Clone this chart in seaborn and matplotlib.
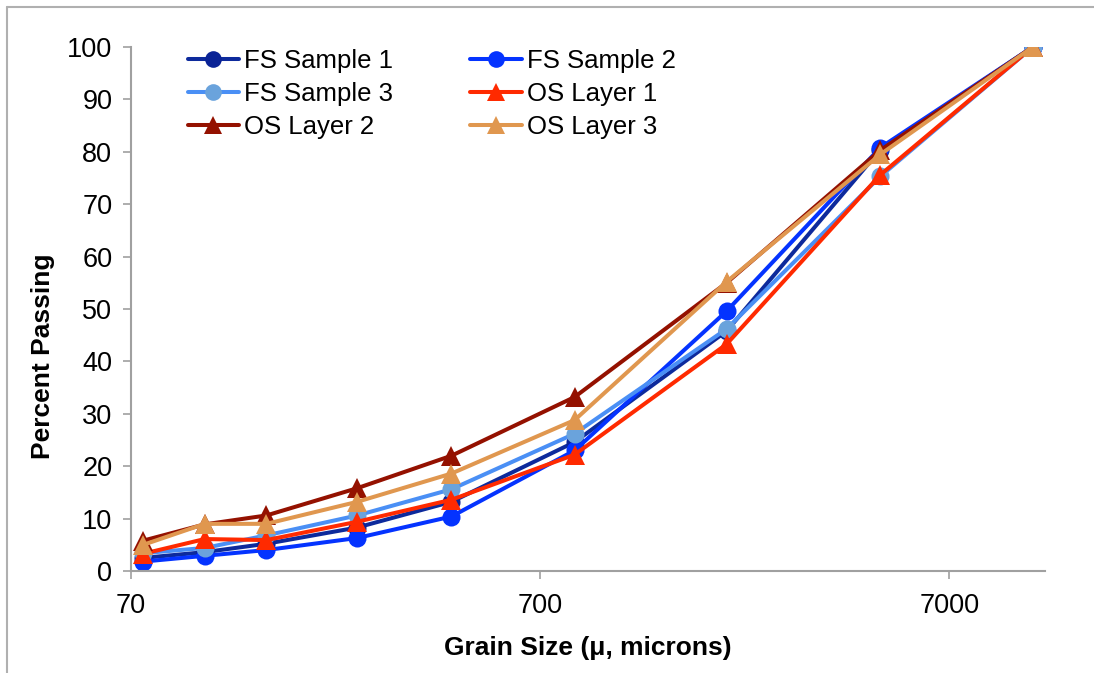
import matplotlib
matplotlib.use("Agg")
import matplotlib.pyplot as plt
from matplotlib.lines import Line2D
from matplotlib.ticker import NullLocator
import seaborn as sns

# Sieve opening sizes (microns) and cumulative percent passing per sample
grain_size = [75, 106, 150, 250, 425, 850, 2000, 4750, 11200]
fs_sample_1 = [2.5, 3.6, 5.2, 8.3, 13.2, 24.6, 45.8, 80.4, 100]
fs_sample_2 = [1.8, 2.9, 4.0, 6.3, 10.4, 23.0, 49.6, 80.8, 100]
fs_sample_3 = [3.4, 4.4, 6.8, 10.6, 15.6, 26.2, 46.2, 75.3, 100]
os_layer_1 = [3.3, 6.1, 5.9, 9.4, 13.6, 22.2, 43.3, 75.6, 100]
os_layer_2 = [5.8, 8.9, 10.6, 15.8, 22.0, 33.2, 55.0, 80.3, 100]
os_layer_3 = [5.0, 9.0, 9.0, 13.2, 18.6, 28.8, 55.2, 79.5, 100]

series_names = ["FS Sample 1", "FS Sample 2", "FS Sample 3",
                "OS Layer 1", "OS Layer 2", "OS Layer 3"]
series_values = [fs_sample_1, fs_sample_2, fs_sample_3,
                 os_layer_1, os_layer_2, os_layer_3]
line_colors = ["#0d2a9c", "#0433ff", "#4a8ff5", "#ff2a00", "#941100", "#e0974f"]
marker_colors = ["#0a2396", "#0433ff", "#6aa3dc", "#ff2a00", "#941100", "#e0974f"]
marker_shapes = ["o", "o", "o", "^", "^", "^"]
marker_sizes = [13, 13, 13, 15, 15, 15]

x_ticks = [70, 700, 7000]
y_ticks = list(range(0, 101, 10))

sns.set_theme(style="white")
plt.rcParams["font.family"] = ["Liberation Sans", "DejaVu Sans"]
plt.rcParams["text.color"] = "black"
plt.rcParams["axes.labelcolor"] = "black"
plt.rcParams["xtick.labelcolor"] = "black"
plt.rcParams["ytick.labelcolor"] = "black"

fig = plt.figure(figsize=(10.94, 6.73), dpi=100)
ax = fig.add_axes([131 / 1094, 1 - 571 / 673, (1045 - 131) / 1094, (571 - 47) / 673])

for name, vals, lc, mc, mk, ms in zip(series_names, series_values, line_colors,
                                      marker_colors, marker_shapes, marker_sizes):
    sns.lineplot(x=grain_size, y=vals, ax=ax, color=lc, linewidth=2.9,
                 marker=mk, markersize=ms, markerfacecolor=mc,
                 markeredgecolor=mc, markeredgewidth=0, label=name,
                 legend=False)

ax.set_xscale("log")
ax.set_xlim(70, 12000)
ax.set_ylim(0, 100)
ax.set_xticks(x_ticks)
ax.set_xticklabels([str(v) for v in x_ticks])
ax.xaxis.set_minor_locator(NullLocator())
ax.set_yticks(y_ticks)

axis_gray = "#a0a0a0"
for side in ("top", "right"):
    ax.spines[side].set_visible(False)
for side in ("left", "bottom"):
    ax.spines[side].set_color(axis_gray)
    ax.spines[side].set_linewidth(1.5)

ax.tick_params(axis="y", which="major", direction="out", length=5.5, width=1.2,
               color=axis_gray, labelsize=19.5, pad=8, left=True)
ax.tick_params(axis="x", which="major", direction="out", length=5.5, width=1.2,
               color=axis_gray, labelsize=19.5, pad=10, bottom=True)

ax.set_xlabel("Grain Size (μ, microns)", fontsize=19, fontweight="bold")
ax.set_ylabel("Percent Passing", fontsize=19, fontweight="bold")
ax.xaxis.set_label_coords(0.5, -0.124)
ax.yaxis.set_label_coords(-0.083, 0.41)

# Legend laid out row by row in two columns
handles = []
for name, lc, mc, mk in zip(series_names, line_colors, marker_colors, marker_shapes):
    handles.append(Line2D([0], [0], color=lc, linewidth=2.9, marker=mk,
                          markersize=12 if mk == "o" else 13,
                          markerfacecolor=mc, markeredgewidth=0, label=name))
order = [0, 2, 4, 1, 3, 5]
ax.legend([handles[i] for i in order], [series_names[i] for i in order],
          ncol=2, frameon=False, fontsize=18.5, loc="upper left",
          bbox_to_anchor=(0.045, 1.026), handlelength=2.0, handletextpad=0.2,
          columnspacing=3.0, labelspacing=0.35, borderaxespad=0.2)

# Chart-area frame edge along the left and top
fig.add_artist(Line2D([7 / 1094, 7 / 1094], [0, 1 - 7 / 673],
                      transform=fig.transFigure, color="#b0b0b0", linewidth=1.5))
fig.add_artist(Line2D([7 / 1094, 1], [1 - 7 / 673, 1 - 7 / 673],
                      transform=fig.transFigure, color="#b0b0b0", linewidth=1.5))

fig.savefig("out.png", dpi=100)
